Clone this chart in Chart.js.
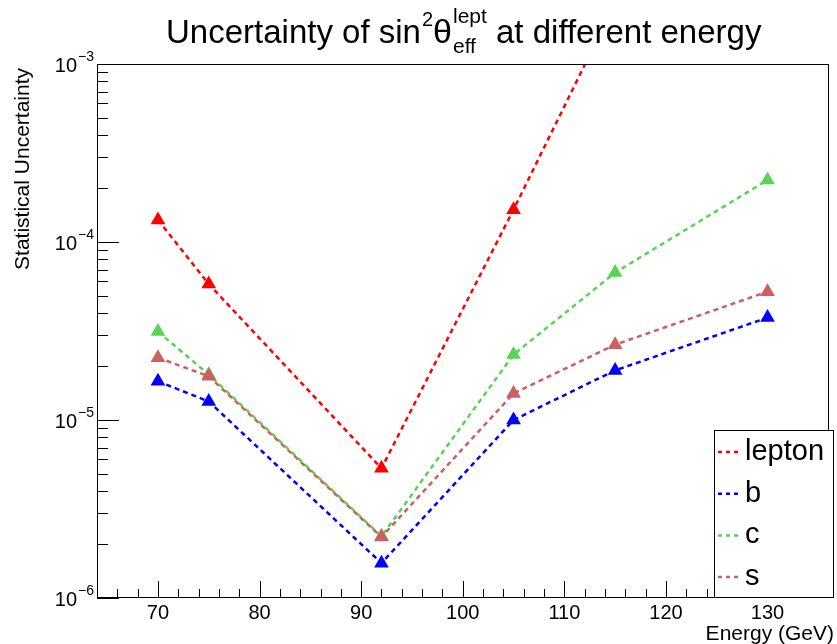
<!DOCTYPE html>
<html lang="en">
<head>
<meta charset="UTF-8">
<title>Uncertainty of sin2theta at different energy</title>
<script src="https://cdn.jsdelivr.net/npm/chart.js"></script>
<style>
    html, body { margin: 0; padding: 0; background: #fff; }
    #wrap { width: 837px; height: 644px; }
</style>
</head>
<body>
<div id="wrap"><canvas id="uncChart" width="837" height="644"></canvas></div>
<script>
    // Energies (GeV) and statistical uncertainty per channel
    const energies = [70, 75, 92, 105, 115, 130];
    const seriesNames = ['lepton', 'b', 'c', 's'];
    const leptonUnc = [1.33e-4, 5.8e-5, 5.35e-6, 1.52e-4, 2.2e-3, 2.0e-2];
    const bUnc = [1.65e-5, 1.27e-5, 1.57e-6, 1.0e-5, 1.9e-5, 3.76e-5];
    const cUnc = [3.14e-5, 1.8e-5, 2.22e-6, 2.33e-5, 6.73e-5, 2.23e-4];
    const sUnc = [2.24e-5, 1.76e-5, 2.2e-6, 1.41e-5, 2.65e-5, 5.26e-5];
    const seriesColors = ['#ff0000', '#0000ff', '#59d454', '#cf5e61'];

    // axis ticks / labels
    const xTickLabels = [70, 80, 90, 100, 110, 120, 130];
    const yTickExponents = [-6, -5, -4, -3];

    const FONT = '"Liberation Sans", Arial, sans-serif';
    const allSeries = [leptonUnc, bUnc, cUnc, sUnc];

    const datasets = allSeries.map((vals, i) => ({
        label: seriesNames[i],
        data: energies.map((e, j) => ({ x: e, y: vals[j] })),
        borderColor: seriesColors[i],
        backgroundColor: seriesColors[i],
        borderWidth: 2.5,
        borderDash: [5, 4],
        pointStyle: 'triangle',
        pointRadius: 8.5,
        pointBorderWidth: 0,
        tension: 0,
        order: 4 - i
    }));

    // ROOT-like frame, ticks, labels, title and legend
    const rootStyle = {
        id: 'rootStyle',
        afterDatasetsDraw(chart) {
            const ctx = chart.ctx;
            const a = chart.chartArea;
            const xs = chart.scales.x, ys = chart.scales.y;
            ctx.save();
            ctx.strokeStyle = '#000';
            ctx.fillStyle = '#000';

            // frame
            ctx.lineWidth = 1;
            ctx.strokeRect(Math.round(a.left) + 0.5, Math.round(a.top) + 0.5,
                Math.round(a.right - a.left) - 1, Math.round(a.bottom - a.top) - 1);

            // y ticks (log)
            ctx.beginPath();
            for (let d = yTickExponents[0]; d < yTickExponents[yTickExponents.length - 1]; d++) {
                for (let k = 1; k <= 9; k++) {
                    const y = Math.round(ys.getPixelForValue(k * Math.pow(10, d))) + 0.5;
                    const len = k === 1 ? 22 : 11;
                    ctx.moveTo(a.left, y);
                    ctx.lineTo(a.left + len, y);
                }
            }
            // x ticks
            for (let v = 66; v < xs.max; v += 2) {
                const x = Math.round(xs.getPixelForValue(v)) + 0.5;
                const len = v % 10 === 0 ? 17 : 9;
                ctx.moveTo(x, a.bottom);
                ctx.lineTo(x, a.bottom - len);
            }
            ctx.stroke();

            // y tick labels 10^n
            ctx.textBaseline = 'alphabetic';
            yTickExponents.forEach(n => {
                const y = ys.getPixelForValue(Math.pow(10, n));
                const sup = '\u2212' + Math.abs(n);
                ctx.font = '20px ' + FONT;
                const w1 = ctx.measureText('10').width;
                ctx.font = '14px ' + FONT;
                const w2 = ctx.measureText(sup).width;
                const x0 = 93 - w1 - w2;
                ctx.textAlign = 'left';
                ctx.font = '20px ' + FONT;
                ctx.fillText('10', x0, y + 8);
                ctx.font = '14px ' + FONT;
                ctx.fillText(sup, x0 + w1 + 1, y - 3);
            });

            // x tick labels
            ctx.font = '20px ' + FONT;
            ctx.textAlign = 'center';
            xTickLabels.forEach(v => {
                ctx.fillText(String(v), xs.getPixelForValue(v), 619);
            });

            // axis titles
            ctx.textAlign = 'right';
            ctx.font = '21px ' + FONT;
            ctx.fillText('Energy (GeV)', 834, 640);
            ctx.save();
            ctx.translate(29, 68);
            ctx.rotate(-Math.PI / 2);
            ctx.font = '21px ' + FONT;
            ctx.textAlign = 'right';
            ctx.fillText('Statistical Uncertainty', 0, 0);
            ctx.restore();

            // title with super/subscripts
            ctx.textAlign = 'left';
            let x = 166;
            const base = 43;
            ctx.font = '33px ' + FONT;
            ctx.fillText('Uncertainty of sin', x, base);
            x += ctx.measureText('Uncertainty of sin').width;
            ctx.font = '20px ' + FONT;
            ctx.fillText('2', x + 1, base - 17);
            x += ctx.measureText('2').width + 1;
            ctx.font = '34px ' + FONT;
            ctx.fillText('\u03b8', x, base);
            x += ctx.measureText('\u03b8').width + 1;
            ctx.font = '21px ' + FONT;
            ctx.fillText('lept', x, 23);
            ctx.fillText('eff', x, 53);
            x += ctx.measureText('lept').width;
            ctx.font = '33px ' + FONT;
            ctx.fillText(' at different energy', x, base);

            // legend box
            const lx = 714, ly = 430, lw = 120, lh = 168;
            ctx.fillStyle = '#fff';
            ctx.fillRect(lx, ly, lw, lh);
            ctx.strokeStyle = '#000';
            ctx.lineWidth = 1;
            ctx.strokeRect(lx + 0.5, ly + 0.5, lw - 1, lh - 1);
            ctx.font = '29px ' + FONT;
            ctx.textAlign = 'left';
            chart.data.datasets.forEach((ds, i) => {
                const by = 460 + i * 41.7;
                ctx.strokeStyle = ds.borderColor;
                ctx.lineWidth = 2.5;
                ctx.setLineDash([4, 4]);
                ctx.beginPath();
                ctx.moveTo(718, by - 8);
                ctx.lineTo(742, by - 8);
                ctx.stroke();
                ctx.setLineDash([]);
                ctx.fillStyle = '#000';
                ctx.fillText(ds.label, 745, by);
            });

            ctx.restore();
        }
    };

    new Chart(document.getElementById('uncChart').getContext('2d'), {
        type: 'line',
        data: { datasets: datasets },
        options: {
            responsive: false,
            animation: false,
            devicePixelRatio: 1,
            layout: { padding: { left: 97, top: 64, right: 3, bottom: 46 } },
            plugins: {
                legend: { display: false },
                title: { display: false },
                tooltip: { enabled: false }
            },
            scales: {
                x: { type: 'linear', min: 64, max: 136, display: false },
                y: { type: 'logarithmic', min: 1e-6, max: 1e-3, display: false }
            }
        },
        plugins: [rootStyle]
    });
</script>
</body>
</html>
